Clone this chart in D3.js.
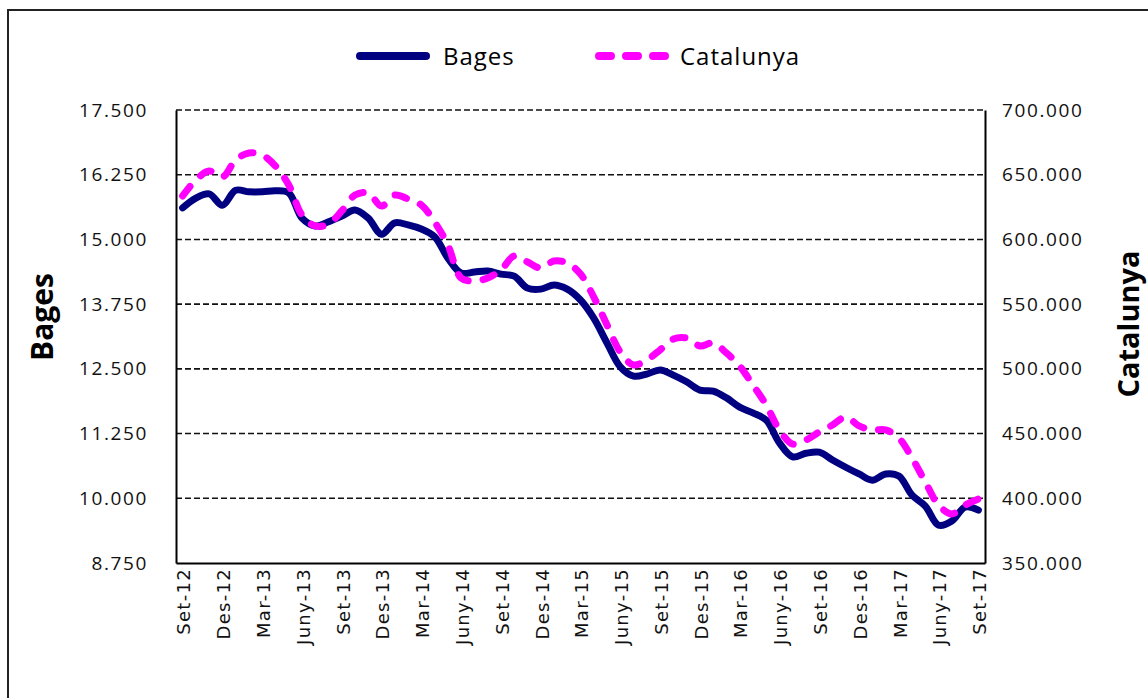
<!DOCTYPE html>
<html>
<head>
<meta charset="utf-8">
<script src="https://cdn.jsdelivr.net/npm/d3@7/dist/d3.min.js"></script>
<style>
  body { margin: 0; background: #fff; }
  svg { display: block; }
</style>
</head>
<body>
<svg width="1148" height="698"></svg>
<script>
// monthly data, Set-12 .. Set-17
const months = [
  "Set-12","Oct-12","Nov-12","Des-12","Gen-13","Feb-13","Mar-13","Abr-13","Maig-13","Juny-13","Jul-13","Ag-13",
  "Set-13","Oct-13","Nov-13","Des-13","Gen-14","Feb-14","Mar-14","Abr-14","Maig-14","Juny-14","Jul-14","Ag-14",
  "Set-14","Oct-14","Nov-14","Des-14","Gen-15","Feb-15","Mar-15","Abr-15","Maig-15","Juny-15","Jul-15","Ag-15",
  "Set-15","Oct-15","Nov-15","Des-15","Gen-16","Feb-16","Mar-16","Abr-16","Maig-16","Juny-16","Jul-16","Ag-16",
  "Set-16","Oct-16","Nov-16","Des-16","Gen-17","Feb-17","Mar-17","Abr-17","Maig-17","Juny-17","Jul-17","Ag-17",
  "Set-17"
];

const bages = [
  15610, 15800, 15880, 15660, 15950, 15920, 15920, 15940, 15900, 15410, 15260, 15340,
  15450, 15570, 15410, 15100, 15320, 15280, 15200, 15050, 14640, 14350, 14370, 14390,
  14330, 14290, 14060, 14040, 14120, 14040, 13830, 13480, 13000, 12540, 12360, 12400,
  12480, 12380, 12250, 12090, 12070, 11940, 11760, 11650, 11510, 11070, 10800, 10870,
  10890, 10740, 10600, 10470, 10350, 10470, 10430, 10060, 9850, 9480, 9560, 9830,
  9770
];

const catalunya = [
  633600, 645900, 652900, 648200, 661400, 666800, 665200, 656700, 642100, 618900, 610400, 611900,
  622000, 634300, 635900, 625800, 634300, 631200, 626600, 613500, 595700, 570200, 567900, 570200,
  576400, 587200, 582600, 577900, 583300, 581800, 573300, 555500, 533900, 513000, 503000, 506900,
  514600, 523000, 523800, 517700, 520000, 512300, 502200, 487500, 472100, 452800, 441900, 445000,
  451200, 456600, 462800, 455900, 452800, 452800, 446600, 431100, 412600, 394800, 387900, 394800,
  399500
];

const xTickLabels = ["Set-12","Des-12","Mar-13","Juny-13","Set-13","Des-13","Mar-14","Juny-14","Set-14","Des-14",
  "Mar-15","Juny-15","Set-15","Des-15","Mar-16","Juny-16","Set-16","Des-16","Mar-17","Juny-17","Set-17"];
const leftTicks = [8750, 10000, 11250, 12500, 13750, 15000, 16250, 17500];
const rightTicks = [350000, 400000, 450000, 500000, 550000, 600000, 650000, 700000];

const svg = d3.select("svg");
const margin = { top: 110, right: 163, bottom: 135, left: 176 };
const width = +svg.attr("width") - margin.left - margin.right;
const height = +svg.attr("height") - margin.top - margin.bottom;

const ca = d3.formatLocale({ decimal: ",", thousands: ".", grouping: [3], currency: ["", "€"] });
const fmt = ca.format(",.0f");

// outer chart border
svg.append("rect")
  .attr("x", 8).attr("y", 10)
  .attr("width", 1160).attr("height", 720)
  .attr("fill", "none")
  .attr("stroke", "#222")
  .attr("stroke-width", 2);

const chart = svg.append("g")
  .attr("transform", `translate(${margin.left},${margin.top})`);

const x = d3.scalePoint()
  .domain(months)
  .range([0, width])
  .padding(0.5);

const yL = d3.scaleLinear().domain([8750, 17500]).range([height, 0]);
const yR = d3.scaleLinear().domain([350000, 700000]).range([height, 0]);

// gridlines
chart.append("g")
  .selectAll("line")
  .data(leftTicks.slice(1))
  .enter().append("line")
  .attr("x1", 0).attr("x2", width)
  .attr("y1", d => yL(d)).attr("y2", d => yL(d))
  .attr("stroke", "#111")
  .attr("stroke-width", 1.6)
  .attr("stroke-dasharray", "6,3");

// Axes
const tickFont = "'Open Sans', sans-serif";

const left = chart.append("g")
  .call(d3.axisLeft(yL).tickValues(leftTicks).tickFormat(fmt).tickSize(0).tickPadding(28));
left.select(".domain").attr("stroke", "#000").attr("stroke-width", 2);
left.selectAll("text")
  .style("font-family", tickFont).style("font-size", "19px")
  .style("letter-spacing", "1.6px").attr("fill", "#111");

const right = chart.append("g")
  .attr("transform", `translate(${width},0)`)
  .call(d3.axisRight(yR).tickValues(rightTicks).tickFormat(fmt).tickSize(0).tickPadding(17));
right.select(".domain").attr("stroke", "#000").attr("stroke-width", 2);
right.selectAll("text")
  .style("font-family", tickFont).style("font-size", "19px")
  .style("letter-spacing", "1.6px").attr("fill", "#111");

const bottom = chart.append("g")
  .attr("transform", `translate(0,${height})`)
  .call(d3.axisBottom(x).tickValues(xTickLabels).tickSize(0));
bottom.select(".domain").attr("stroke", "#000").attr("stroke-width", 2);
bottom.selectAll("text")
  .attr("transform", "rotate(-90)")
  .attr("x", -5).attr("y", 1).attr("dy", "0.35em")
  .style("text-anchor", "end")
  .style("font-family", "'DejaVu Sans', sans-serif").style("font-size", "18px")
  .style("letter-spacing", "1.3px").attr("fill", "#111");

// lines
const lineL = d3.line()
  .x((d, i) => x(months[i]))
  .y(d => yL(d))
  .curve(d3.curveCatmullRom.alpha(0.5));

const lineR = d3.line()
  .x((d, i) => x(months[i]))
  .y(d => yR(d))
  .curve(d3.curveCatmullRom.alpha(0.5));

chart.append("path")
  .datum(bages)
  .attr("d", lineL)
  .attr("fill", "none")
  .attr("stroke", "#000080")
  .attr("stroke-width", 7)
  .attr("stroke-linecap", "round")
  .attr("stroke-linejoin", "round");

chart.append("path")
  .datum(catalunya)
  .attr("d", lineR)
  .attr("fill", "none")
  .attr("stroke", "#ff00ff")
  .attr("stroke-width", 7)
  .attr("stroke-dasharray", "12,15")
  .attr("stroke-linecap", "round")
  .attr("stroke-linejoin", "round");

// axis titles
svg.append("text")
  .attr("transform", "translate(53,317) rotate(-90)")
  .attr("text-anchor", "middle")
  .style("font-family", tickFont).style("font-size", "30px").style("font-weight", "bold")
  .text("Bages");

svg.append("text")
  .attr("transform", "translate(1139,324) rotate(-90)")
  .attr("text-anchor", "middle")
  .style("font-family", tickFont).style("font-size", "29px").style("font-weight", "bold")
  .text("Catalunya");

// legend
const legend = svg.append("g");
const items = [
  { name: "Bages", color: "#000080", dash: null, x: 360, tx: 443 },
  { name: "Catalunya", color: "#ff00ff", dash: "12,15", x: 599, tx: 680 }
];
items.forEach(it => {
  legend.append("line")
    .attr("x1", it.x).attr("x2", it.x + 66)
    .attr("y1", 56).attr("y2", 56)
    .attr("stroke", it.color)
    .attr("stroke-width", 8)
    .attr("stroke-linecap", "round")
    .attr("stroke-dasharray", it.dash);
  legend.append("text")
    .attr("x", it.tx).attr("y", 65)
    .style("font-family", tickFont).style("font-size", "24px")
    .style("letter-spacing", "1px")
    .text(it.name);
});
</script>
</body>
</html>
